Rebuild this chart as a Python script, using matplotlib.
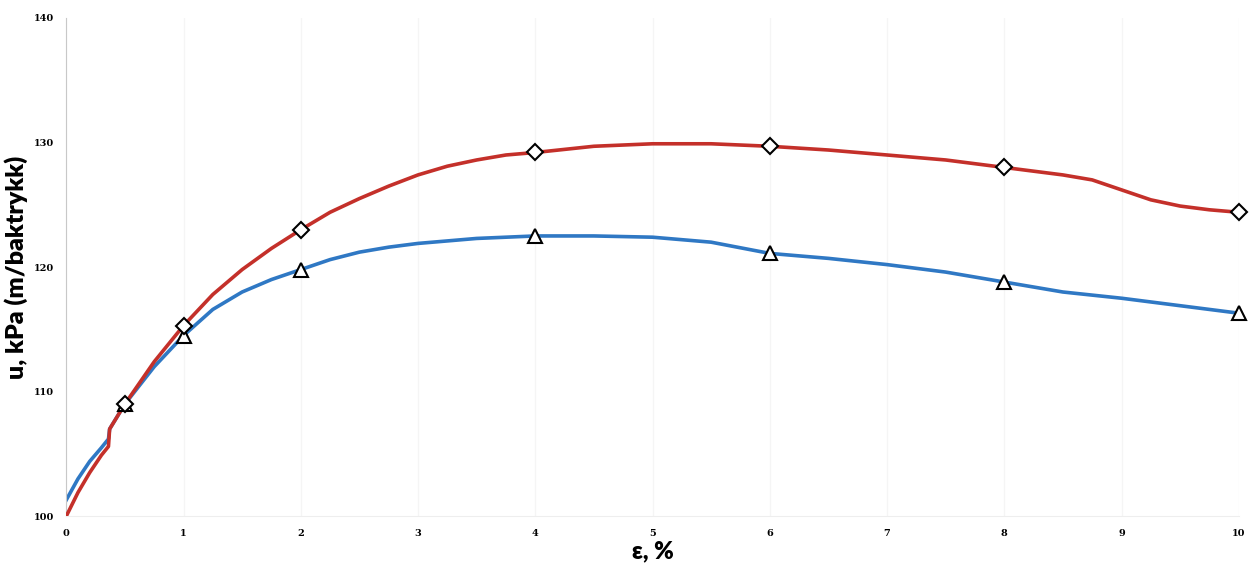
import matplotlib
matplotlib.use("Agg")
import matplotlib.pyplot as plt

# strain (%) and pore pressure (kPa)
red_x = [0, 0.1, 0.2, 0.3, 0.36, 0.37, 0.5, 0.75, 1, 1.25, 1.5, 1.75, 2, 2.25, 2.5, 2.75, 3, 3.25, 3.5, 3.75, 4, 4.5, 5, 5.5, 6, 6.5, 7, 7.5, 8, 8.25, 8.5, 8.75, 9, 9.25, 9.5, 9.75, 10]
red_y = [100.0, 101.9, 103.5, 104.9, 105.6, 107.0, 109.0, 112.4, 115.3, 117.8, 119.8, 121.5, 123.0, 124.4, 125.5, 126.5, 127.4, 128.1, 128.6, 129.0, 129.2, 129.7, 129.9, 129.9, 129.7, 129.4, 129.0, 128.6, 128.0, 127.7, 127.4, 127.0, 126.2, 125.4, 124.9, 124.6, 124.4]
blue_x = [0, 0.1, 0.2, 0.3, 0.36, 0.37, 0.5, 0.75, 1, 1.25, 1.5, 1.75, 2, 2.25, 2.5, 2.75, 3, 3.5, 4, 4.5, 5, 5.5, 6, 6.5, 7, 7.5, 8, 8.5, 9, 9.5, 10]
blue_y = [101.3, 103.0, 104.4, 105.5, 106.2, 107.0, 109.0, 112.0, 114.5, 116.6, 118.0, 119.0, 119.8, 120.6, 121.2, 121.6, 121.9, 122.3, 122.5, 122.5, 122.4, 122.0, 121.1, 120.7, 120.2, 119.6, 118.8, 118.0, 117.5, 116.9, 116.3]

red_mx = [0.5, 1, 2, 4, 6, 8, 10]
red_my = [109.0, 115.3, 123.0, 129.2, 129.7, 128.0, 124.4]
blue_mx = [0.5, 1, 2, 4, 6, 8, 10]
blue_my = [109.0, 114.5, 119.8, 122.5, 121.1, 118.8, 116.3]

xticks = list(range(0, 11))
yticks = [100, 110, 120, 130, 140]

fig = plt.figure(figsize=(12.5, 5.8), dpi=100)
ax = fig.add_axes([0.053, 0.110, 0.938, 0.859])

ax.plot(blue_x, blue_y, color="#2f78c4", lw=2.6, zorder=2, solid_joinstyle="round")
ax.plot(red_x, red_y, color="#c4302a", lw=2.6, zorder=3, solid_joinstyle="round")
ax.plot(blue_mx, blue_my, ls="none", marker="^", ms=10, mfc="white", mec="black",
        mew=1.5, zorder=4, clip_on=False)
ax.plot(red_mx, red_my, ls="none", marker="D", ms=8, mfc="white", mec="black",
        mew=1.5, zorder=5, clip_on=False)

ax.set_xlim(0, 10)
ax.set_ylim(100, 140)
ax.set_xticks(xticks)
ax.set_yticks(yticks)
ax.grid(axis="x", color="#f5f5f5", lw=1)
ax.tick_params(length=0, pad=9)
for lab in ax.get_xticklabels() + ax.get_yticklabels():
    lab.set_fontfamily("DejaVu Serif")
    lab.set_fontweight("bold")
    lab.set_fontsize(7)

for s in ["top", "right"]:
    ax.spines[s].set_visible(False)
ax.spines["left"].set_color("#c8c8c8")
ax.spines["bottom"].set_color("#eeeeee")

ax.set_xlabel("ε, %", fontsize=17, fontweight="heavy", family="Lato", labelpad=2)
ax.set_ylabel("u, kPa (m/baktrykk)", fontsize=18, fontweight="heavy", family="Lato")
ax.yaxis.set_label_coords(-0.033, 0.5)

fig.savefig("out.png")
